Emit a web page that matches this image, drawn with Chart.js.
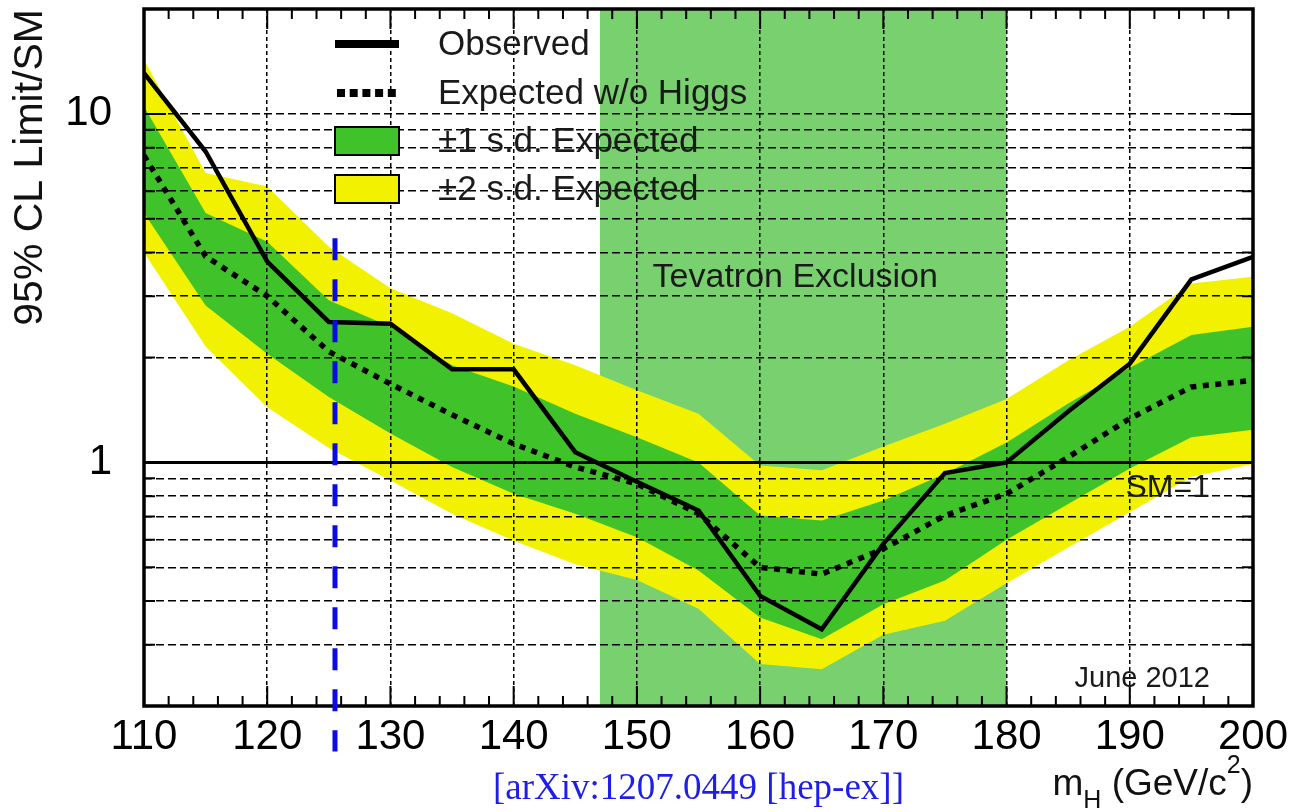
<!DOCTYPE html>
<html>
<head>
<meta charset="utf-8">
<script src="https://cdn.jsdelivr.net/npm/chart.js@4"></script>
<style>
  html, body { margin: 0; padding: 0; background: #fff; }
  #wrap { width: 1295px; height: 812px; }
</style>
</head>
<body>
<div id="wrap"><canvas id="limit-plot" width="1295" height="812"></canvas></div>
<script>
// Higgs mass points (GeV/c^2)
const masses = [110, 115, 120, 125, 130, 135, 140, 145, 150, 155, 160, 165, 170, 175, 180, 185, 190, 195, 200]

// 95% CL limit / SM
const observed = [13.1, 7.8, 3.77, 2.53, 2.5, 1.85, 1.85, 1.07, 0.88, 0.728, 0.414, 0.332, 0.584, 0.932, 1.0, 1.4, 1.92, 3.35, 3.89]
const expected = [7.6, 3.9, 3.0, 2.08, 1.68, 1.37, 1.13, 0.97, 0.868, 0.713, 0.50, 0.478, 0.565, 0.704, 0.813, 1.035, 1.336, 1.646, 1.72]
const oneSigmaUp = [10.5, 5.2, 4.3, 2.92, 2.45, 1.9, 1.65, 1.38, 1.18, 1.0, 0.704, 0.681, 0.777, 0.928, 1.14, 1.475, 1.87, 2.32, 2.45]
const oneSigmaDown = [5.2, 2.82, 2.05, 1.54, 1.21, 0.97, 0.813, 0.712, 0.61, 0.49, 0.359, 0.311, 0.392, 0.458, 0.60, 0.76, 0.96, 1.18, 1.24]
const twoSigmaUp = [14.3, 6.77, 6.19, 4.16, 3.16, 2.68, 2.19, 1.90, 1.61, 1.38, 0.98, 0.95, 1.11, 1.29, 1.52, 1.96, 2.45, 3.26, 3.41]
const twoSigmaDown = [4.0, 2.15, 1.44, 1.1, 0.888, 0.712, 0.596, 0.51, 0.46, 0.38, 0.264, 0.255, 0.32, 0.351, 0.45, 0.57, 0.72, 0.91, 0.99]

// Tevatron excluded mass range
const tevatronExclusion = [147, 180]

// LHC observed mass, marked with a blue dashed line
const higgsMass = 125.5
const higgsLineRange = [4.4, 0.148]

// axis ticks
const yTickValues = [0.2, 0.3, 0.4, 0.5, 0.6, 0.7, 0.8, 0.9, 1, 2, 3, 4, 5, 6, 7, 8, 9, 10, 20]
const yTickLabels = [1, 10]

const YELLOW = '#f2f200'
const GREEN = '#40c32a'
const LIGHT_GREEN = '#78d06f'
const SANS = '"Liberation Sans", Arial, Helvetica, sans-serif'

const points = (vals) => masses.map((m, i) => ({ x: m, y: vals[i] }))

// light green band behind everything
const exclusionBand = {
  id: 'exclusionBand',
  beforeDatasetsDraw(chart) {
    const { ctx, chartArea: a } = chart
    const x = chart.scales.x
    ctx.save()
    ctx.fillStyle = LIGHT_GREEN
    const x0 = x.getPixelForValue(tevatronExclusion[0])
    const x1 = x.getPixelForValue(tevatronExclusion[1])
    ctx.fillRect(x0, a.top, x1 - x0, a.bottom - a.top)
    ctx.restore()
  }
}

// frame, inward ticks, legend and labels
const decorations = {
  id: 'decorations',
  afterDraw(chart) {
    const { ctx, chartArea: a } = chart
    const xs = chart.scales.x
    const ys = chart.scales.y
    ctx.save()

    // inward tick marks
    ctx.strokeStyle = '#000'
    ctx.lineWidth = 2
    ctx.beginPath()
    xs.ticks.forEach(t => {
      const px = xs.getPixelForValue(t.value)
      const len = t.value % 10 === 0 ? 20 : 10
      ctx.moveTo(px, a.bottom); ctx.lineTo(px, a.bottom - len)
      ctx.moveTo(px, a.top); ctx.lineTo(px, a.top + len)
    })
    ys.ticks.forEach(t => {
      const py = ys.getPixelForValue(t.value)
      const len = yTickLabels.includes(t.value) ? 22 : 11
      ctx.moveTo(a.left, py); ctx.lineTo(a.left + len, py)
      ctx.moveTo(a.right, py); ctx.lineTo(a.right - len, py)
    })
    ctx.stroke()

    // frame
    ctx.lineWidth = 3.5
    ctx.strokeRect(a.left, a.top, a.right - a.left, a.bottom - a.top)

    // blue dashed line at the observed boson mass
    ctx.strokeStyle = '#0a0ae6'
    ctx.lineWidth = 5
    ctx.setLineDash([22, 19])
    const hx = xs.getPixelForValue(higgsMass)
    ctx.beginPath()
    ctx.moveTo(hx, ys.getPixelForValue(higgsLineRange[0]))
    ctx.lineTo(hx, ys.getPixelForValue(higgsLineRange[1]))
    ctx.stroke()
    ctx.setLineDash([])

    // legend
    const lx = a.left + 191, lw = 64, tx = a.left + 294
    const rows = [a.top + 35, a.top + 84, a.top + 132, a.top + 180]
    ctx.strokeStyle = '#000'
    ctx.lineWidth = 8
    ctx.beginPath(); ctx.moveTo(lx, rows[0]); ctx.lineTo(lx + lw, rows[0]); ctx.stroke()
    ctx.setLineDash([8, 4.7])
    ctx.beginPath(); ctx.moveTo(lx + 2, rows[1]); ctx.lineTo(lx + lw, rows[1]); ctx.stroke()
    ctx.setLineDash([])
    ctx.lineWidth = 2
    ctx.fillStyle = GREEN
    ctx.fillRect(lx, rows[2] - 14, lw, 28); ctx.strokeRect(lx, rows[2] - 14, lw, 28)
    ctx.fillStyle = YELLOW
    ctx.fillRect(lx, rows[3] - 14, lw, 28); ctx.strokeRect(lx, rows[3] - 14, lw, 28)

    ctx.fillStyle = '#1a1a1a'
    ctx.font = '35px ' + SANS
    ctx.textBaseline = 'middle'
    ctx.textAlign = 'left'
    const names = ['Observed', 'Expected w/o Higgs', '\u00b11 s.d. Expected', '\u00b12 s.d. Expected']
    names.forEach((n, i) => ctx.fillText(n, tx, rows[i] + 1))

    // in-plot labels
    ctx.textBaseline = 'alphabetic'
    ctx.textAlign = 'center'
    ctx.font = '34px ' + SANS
    const bandMid = (xs.getPixelForValue(tevatronExclusion[0]) + xs.getPixelForValue(tevatronExclusion[1])) / 2
    ctx.fillText('Tevatron Exclusion', bandMid - 8, a.top + 278)
    ctx.textAlign = 'right'
    ctx.font = '32px ' + SANS
    ctx.fillText('SM=1', a.right - 43, ys.getPixelForValue(1) + 35)
    ctx.font = '29px ' + SANS
    ctx.fillText('June 2012', a.right - 43, a.bottom - 19)

    // x axis title with sub- and superscript
    ctx.fillStyle = '#111'
    ctx.textAlign = 'left'
    const big = '37px ' + SANS, small = '25px ' + SANS
    const parts = [['m', big, 0], ['H', small, 13], [' (GeV/c', big, 0], ['2', small, -22], [')', big, 0]]
    let total = 0
    parts.forEach(p => { ctx.font = p[1]; total += ctx.measureText(p[0]).width })
    let cx = a.right - total
    const base = a.bottom + 89
    parts.forEach(p => {
      ctx.font = p[1]
      ctx.fillText(p[0], cx, base + p[2])
      cx += ctx.measureText(p[0]).width
    })

    // reference tag
    ctx.fillStyle = '#1e1ee6'
    ctx.font = '37px "Liberation Serif", "Times New Roman", serif'
    ctx.fillText('[arXiv:1207.0449 [hep-ex]]', 493, a.bottom + 93)

    ctx.restore()
  }
}

// keep the plot box fixed regardless of tick label extents
const fixPadding = (s) => {
  s.paddingTop = 0
  s.paddingBottom = 0
  s.paddingLeft = 0
  s.paddingRight = 0
}

const ctx = document.getElementById('limit-plot').getContext('2d')

const limitPlot = new Chart(ctx, {
  type: 'line',
  data: {
    datasets: [
      {
        label: 'SM=1',
        data: [{ x: masses[0], y: 1 }, { x: masses[masses.length - 1], y: 1 }],
        borderColor: '#000',
        borderWidth: 3,
        order: -1
      },
      {
        label: 'Observed',
        data: points(observed),
        borderColor: '#000',
        borderWidth: 4.5,
        order: 0
      },
      {
        label: 'Expected w/o Higgs',
        data: points(expected),
        borderColor: '#000',
        borderWidth: 5.5,
        borderDash: [6, 6.5],
        borderCapStyle: 'butt',
        order: 1
      },
      {
        label: '\u00b11 s.d. Expected',
        data: points(oneSigmaUp),
        borderWidth: 0,
        backgroundColor: GREEN,
        fill: '+1',
        order: 2
      },
      {
        label: 'one sigma low',
        data: points(oneSigmaDown),
        borderWidth: 0,
        order: 3
      },
      {
        label: '\u00b12 s.d. Expected',
        data: points(twoSigmaUp),
        borderWidth: 0,
        backgroundColor: YELLOW,
        fill: '+1',
        order: 4
      },
      {
        label: 'two sigma low',
        data: points(twoSigmaDown),
        borderWidth: 0,
        order: 5
      }
    ]
  },
  options: {
    responsive: false,
    animation: false,
    events: [],
    layout: { padding: { left: 0, top: 9, right: 42, bottom: 0 } },
    elements: {
      point: { radius: 0 },
      line: { tension: 0 }
    },
    plugins: {
      legend: { display: false },
      tooltip: { enabled: false }
    },
    scales: {
      x: {
        type: 'linear',
        min: 110,
        max: 200,
        afterFit: (s) => { s.height = 106; fixPadding(s) },
        ticks: {
          stepSize: 2,
          autoSkip: false,
          maxRotation: 0,
          padding: 6,
          color: '#000',
          font: { family: SANS, size: 42 },
          callback: (v) => (v % 10 === 0 ? String(v) : '')
        },
        grid: {
          z: 1,
          drawTicks: false,
          lineWidth: 1.5,
          color: (c) => {
            const v = c.tick && c.tick.value
            return v % 10 === 0 && v !== 110 && v !== 200 ? '#000' : 'rgba(0,0,0,0)'
          }
        },
        border: { display: false, dash: [4, 3] }
      },
      y: {
        type: 'logarithmic',
        min: 0.2,
        max: 20,
        afterFit: (s) => { s.width = 144; fixPadding(s) },
        afterBuildTicks: (s) => { s.ticks = yTickValues.map(v => ({ value: v })) },
        ticks: {
          autoSkip: false,
          padding: 32,
          color: '#000',
          font: { family: SANS, size: 42 },
          callback: (v) => (yTickLabels.includes(v) ? String(v) : '')
        },
        grid: {
          z: 1,
          drawTicks: false,
          lineWidth: 1.5,
          color: (c) => {
            const v = c.tick && c.tick.value
            return v === 0.2 || v === 20 ? 'rgba(0,0,0,0)' : '#000'
          }
        },
        border: { display: false, dash: [8, 4] },
        title: {
          display: true,
          text: '95% CL Limit/SM',
          align: 'end',
          color: '#111',
          padding: { top: 6, bottom: 0 },
          font: { family: SANS, size: 41 }
        }
      }
    }
  },
  plugins: [exclusionBand, decorations]
})
</script>
</body>
</html>
